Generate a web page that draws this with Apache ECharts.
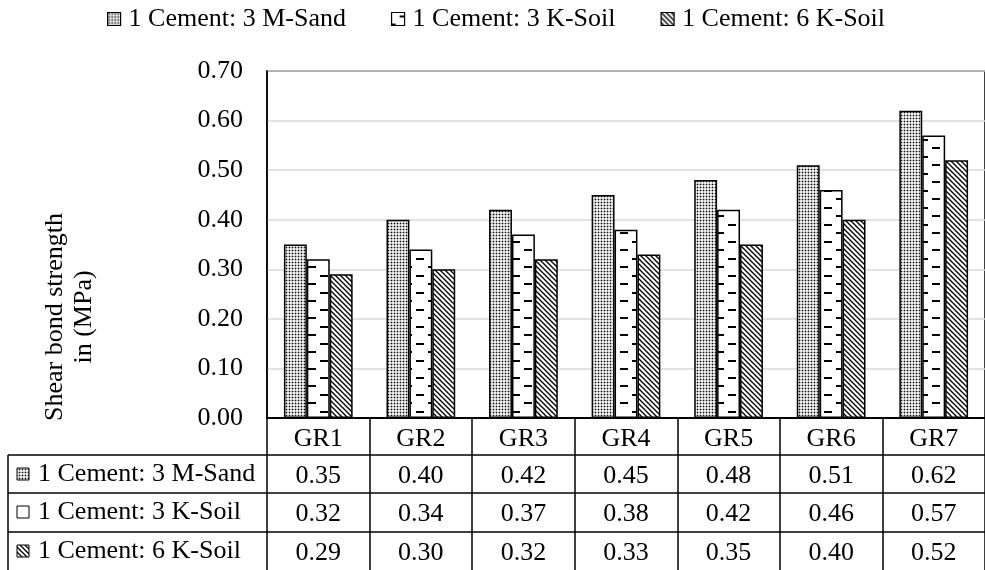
<!DOCTYPE html>
<html>
<head>
<meta charset="utf-8">
<script src="https://cdn.jsdelivr.net/npm/echarts@6/dist/echarts.min.js"></script>
<style>
  html, body { margin: 0; padding: 0; background: #fff; }
  #chart { width: 985px; height: 570px; }
</style>
</head>
<body>
<div id="chart"></div>
<script>
// Shear bond strength of mortar mixes per test group
const categories = ['GR1', 'GR2', 'GR3', 'GR4', 'GR5', 'GR6', 'GR7'];
const seriesNames = ['1 Cement: 3 M-Sand', '1 Cement: 3 K-Soil', '1 Cement: 6 K-Soil'];
const mSand3 = [0.35, 0.40, 0.42, 0.45, 0.48, 0.51, 0.62];
const kSoil3 = [0.32, 0.34, 0.37, 0.38, 0.42, 0.46, 0.57];
const kSoil6 = [0.29, 0.30, 0.32, 0.33, 0.35, 0.40, 0.52];
const yMin = 0, yMax = 0.7, yStep = 0.1;
const yTitle = 'Shear bond strength\nin (MPa)';

const FONT = 'Liberation Serif';
const FS = 26;

// --- fill patterns -------------------------------------------------------
function makeTile(w, h, draw) {
  const c = document.createElement('canvas');
  c.width = w; c.height = h;
  const g = c.getContext('2d');
  g.fillStyle = '#fff';
  g.fillRect(0, 0, w, h);
  g.fillStyle = '#000';
  g.strokeStyle = '#000';
  draw(g, w, h);
  return { image: c, repeat: 'repeat' };
}
const dotFill = makeTile(3, 3, (g) => { g.fillRect(0.7, 0.7, 1.6, 1.6); });
const dashFill = makeTile(24, 17, (g) => {
  g.fillRect(8, 3, 8, 2);
  g.fillRect(20, 11, 4, 2);
  g.fillRect(0, 11, 4, 2);
});
const hatchFill = makeTile(5, 5, (g, w, h) => {
  g.lineWidth = 1.3;
  for (const o of [-w, 0, w]) {
    g.beginPath();
    g.moveTo(o - 1, -1);
    g.lineTo(o + w + 1, h + 1);
    g.stroke();
  }
});
const fills = [dotFill, dashFill, hatchFill];
const seriesValues = [mSand3, kSoil3, kSoil6];

// --- layout of plot + data table ----------------------------------------
const gridLeft = 267, gridTop = 71, gridHeight = 347, gridWidth = 730;
const rowOffsets = [37, 75.5, 114];       // label offsets of the three table rows
const rowLines = [455, 493, 532];          // horizontal rules of the table
const tableLeft = 8;

const chart = echarts.init(document.getElementById('chart'), null, { renderer: 'canvas' });

const rowAxes = seriesValues.map((vals, i) => ({
  type: 'category',
  data: categories,
  gridIndex: 0,
  position: 'bottom',
  offset: rowOffsets[i],
  axisLine: { show: false },
  axisTick: { show: false },
  splitLine: { show: false },
  axisLabel: {
    interval: 0, margin: 8, fontSize: FS, fontFamily: FONT, color: '#000',
    formatter: (v, idx) => vals[idx].toFixed(2)
  }
}));

const graphics = [];
// table rules
rowLines.forEach((y) => {
  graphics.push({
    type: 'line', silent: true,
    shape: { x1: tableLeft, y1: y, x2: 985, y2: y },
    style: { stroke: '#000', lineWidth: 1.5 }
  });
});
graphics.push({
  type: 'line', silent: true,
  shape: { x1: tableLeft, y1: rowLines[0], x2: tableLeft, y2: 570 },
  style: { stroke: '#000', lineWidth: 1.5 }
});
// row headers with pattern keys
const rowCenters = [474, 512, 551];
seriesNames.forEach((name, i) => {
  graphics.push({
    type: 'rect', silent: true,
    shape: { x: 17, y: rowCenters[i] - 6, width: 12, height: 12 },
    style: { fill: fills[i], stroke: '#000', lineWidth: 1 }
  });
  graphics.push({
    type: 'text', silent: true,
    x: 38, y: rowCenters[i],
    style: {
      text: name, fill: '#000', font: FS + 'px "' + FONT + '"',
      textAlign: 'left', textVerticalAlign: 'middle'
    }
  });
});
// y axis title
graphics.push({
  type: 'text', silent: true,
  x: 70, y: 317, rotation: Math.PI / 2,
  style: {
    text: yTitle, fill: '#000', font: FS + 'px "' + FONT + '"',
    textAlign: 'center', textVerticalAlign: 'middle', lineHeight: 29
  }
});

chart.setOption({
  animation: false,
  backgroundColor: '#fff',
  textStyle: { fontFamily: FONT },
  legend: {
    data: seriesNames,
    top: 1,
    left: 102,
    icon: 'rect',
    itemWidth: 13,
    itemHeight: 13,
    itemGap: 45,
    itemStyle: { borderColor: '#000', borderWidth: 1.2 },
    textStyle: { fontSize: FS, fontFamily: FONT, color: '#000', padding: [0, 0, 0, 3] }
  },
  grid: {
    left: gridLeft, top: gridTop, width: gridWidth, height: gridHeight,
    show: true, borderColor: '#000', borderWidth: 1.5, backgroundColor: 'transparent'
  },
  xAxis: [{
    type: 'category',
    data: categories,
    gridIndex: 0,
    position: 'bottom',
    axisLine: { show: true, lineStyle: { color: '#000', width: 2 } },
    axisTick: { show: true, length: 570 - (gridTop + gridHeight), lineStyle: { color: '#000', width: 1.5 } },
    axisLabel: { interval: 0, margin: 8, fontSize: FS, fontFamily: FONT, color: '#000' },
    splitLine: { show: false }
  }].concat(rowAxes),
  yAxis: {
    type: 'value',
    min: yMin, max: yMax, interval: yStep,
    axisLine: { show: true, lineStyle: { color: '#000', width: 1.5 } },
    axisTick: { show: false },
    axisLabel: {
      margin: 24, fontSize: FS, fontFamily: FONT, color: '#000',
      formatter: (v) => v.toFixed(2)
    },
    splitLine: { show: true, lineStyle: { color: '#d9d9d9', width: 1.5 } }
  },
  series: seriesNames.map((name, i) => ({
    name: name,
    type: 'bar',
    xAxisIndex: 0,
    data: seriesValues[i],
    barGap: '0%',
    barCategoryGap: '33%',
    itemStyle: { color: fills[i], borderColor: '#000', borderWidth: 1.5 }
  })),
  graphic: graphics
});
</script>
</body>
</html>
